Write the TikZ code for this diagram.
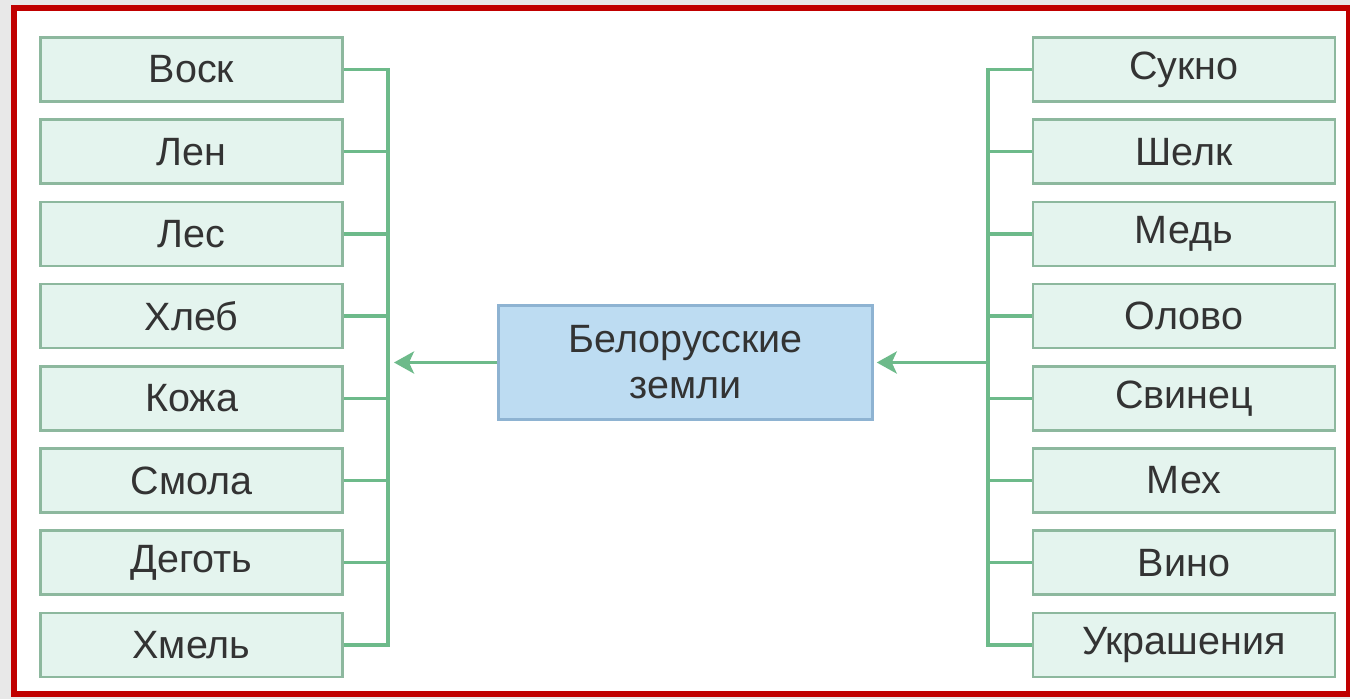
\documentclass[tikz,border=0pt]{standalone}
\usepackage{fontspec}
\setmainfont{Liberation Sans}
\usetikzlibrary{arrows.meta}
\definecolor{bgray}{HTML}{E8E8E8}
\definecolor{framered}{HTML}{C00000}
\definecolor{boxfill}{HTML}{E4F4EE}
\definecolor{boxline}{HTML}{8DB89E}
\definecolor{conn}{HTML}{6DBA8A}
\definecolor{cfill}{HTML}{BDDCF2}
\definecolor{cline}{HTML}{8EB3D2}
\definecolor{txt}{HTML}{333333}
\begin{document}
\begin{tikzpicture}[x=1pt,y=-1pt,
  item/.style={draw=boxline,fill=boxfill,line width=2.5pt,minimum width=302pt,minimum height=64pt,inner sep=0pt,text=txt,font=\fontsize{39.5}{44}\selectfont},
  center/.style={draw=cline,fill=cfill,line width=2.5pt,minimum width=374pt,minimum height=114pt,inner sep=0pt,text=txt,align=center,font=\fontsize{39.5}{46}\selectfont},
  link/.style={draw=conn,line width=3.5pt},
  bus/.style={draw=conn,line width=4pt,line cap=rect},
  arr/.style={draw=conn,line width=3.5pt,-{Stealth[length=20pt,width=22pt,inset=5pt]}}]
\useasboundingbox (0,0) rectangle (1350,699);
\fill[bgray] (0,0) rectangle (1350,699);
\fill[white] (14,8) rectangle (1348,694);
\draw[framered,line width=6pt] (14,8) rectangle (1348.5,694);
% left column
\foreach \i/\t [count=\k from 0] in {1/Воск,2/Лен,3/Лес,4/Хлеб,5/Кожа,6/Смола,7/Деготь,8/Хмель}{
  \node[item] (l\i) at (191.5,{69.5+82.2*\k}) {\t};
}
\foreach \i/\t [count=\k from 0] in {1/Сукно,2/Шелк,3/Медь,4/Олово,5/Свинец,6/Мех,7/Вино,8/Украшения}{
  \node[item] (r\i) at (1184,{69.5+82.2*\k}) {\t};
}
\node[center] (c) at (685.5,362.5) {Белорусские\\земли};
\coordinate (lbus) at (388,0);
\coordinate (rbus) at (988,0);
\foreach \i in {1,...,8}{
  \draw[link] (l\i.east) -- (l\i.east -| lbus);
  \draw[link] (r\i.west) -- (r\i.west -| rbus);
}
\draw[bus] (l1.east -| lbus) -- (l8.east -| lbus);
\draw[bus] (r1.west -| rbus) -- (r8.west -| rbus);
\draw[arr,shorten >=6pt] (c.west) -- (c.west -| lbus);
\draw[arr,shorten >=3pt] (c.east -| rbus) -- (c.east);
\end{tikzpicture}
\end{document}
